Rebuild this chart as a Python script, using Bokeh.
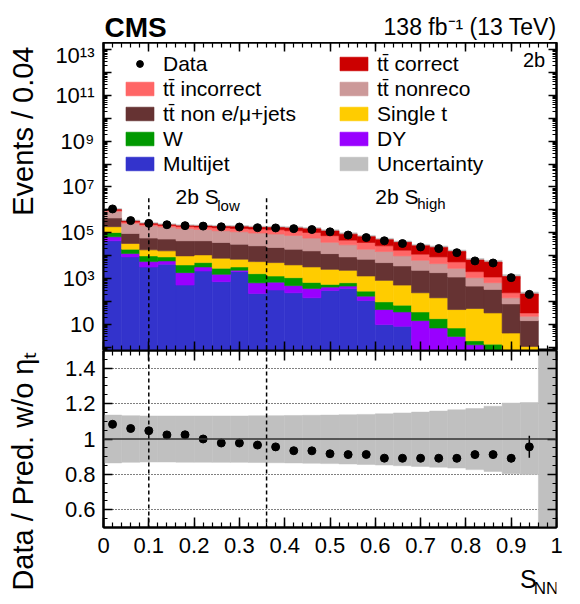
import numpy as np
from bokeh.plotting import figure
from bokeh.layouts import column, row
from bokeh.models import (FixedTicker, LogAxis, LinearAxis, Label, Legend,
                          LegendItem, Span, CustomJSTickFormatter)
from bokeh.embed import file_html
from bokeh.resources import INLINE

# ---------------- data ----------------
bin_edges = [0.00, 0.04, 0.08, 0.12, 0.16, 0.20, 0.24, 0.28, 0.32, 0.36, 0.40,
             0.44, 0.48, 0.52, 0.56, 0.60, 0.64, 0.68, 0.72, 0.76, 0.80, 0.84,
             0.88, 0.92, 0.96, 1.00]

multijet = [44600, 8800, 3200, 4200, 520, 2140, 730, 2000, 220, 316, 238, 144,
            302, 370, 110, 9.7, 8.2, 0, 0, 0, 0, 0, 0, 0, 0]
dy = [22100, 3550, 2300, 1690, 1290, 1070, 800, 290, 430, 376, 252, 226,
      122, 99, 60, 34.5, 26.6, 14.5, 6.9, 2.96, 1.28, 0, 0, 0, 0]
w_jets = [36800, 6800, 4250, 2920, 2120, 1760, 1280, 920, 980, 596, 600, 306,
          131, 187, 112, 51.7, 33.7, 20.3, 10.8, 3.94, 0.63, 1.36, 0, 0, 0]
single_t = [80200, 14800, 8150, 7370, 5820, 5820, 4910, 3760, 3860, 3680, 2840,
            2530, 1974, 1630, 1006, 736, 450, 204, 126, 37.3, 47, 30.1, 4.16, 1.08, 0]
tt_non_lj = [257900, 59600, 40400, 36540, 34800, 33800, 29900, 24800, 21400,
             17700, 15200, 12970, 9730, 6520, 5680, 4134, 3030, 2047, 1663, 1120,
             420, 303, 74.1, 13.4, 0]
tt_nonreco = [425400, 164000, 144900, 124700, 110600, 95700, 84900, 78900, 70000,
              64800, 57200, 42100, 26000, 20900, 12170, 10170, 6200, 4009, 2680,
              1635, 620, 322, 65.7, 8.0, 0]
tt_incorrect = [92000, 36800, 29600, 33000, 34900, 37100, 43500, 44500, 48100,
                48000, 46100, 45200, 36200, 17900, 18440, 11710, 7550, 5265, 4323,
                2522, 911, 508, 95, 9.0, 0]
tt_correct = [53000, 25500, 12700, 8400, 9400, 17600, 20200, 26800, 26900, 34300,
              39700, 44400, 45100, 39500, 30000, 23250, 20720, 15360, 14100, 9820,
              4457, 4084, 991, 182, 0]

data_events = [1096000, 338800, 257000, 223900, 204200, 195000, 182000, 177800,
               166000, 162200, 151400, 138000, 109600, 79430, 61660, 44670, 33880,
               23990, 20420, 13490, 5888, 4786, 1096, 204]
data_err_rel = [0.001, 0.002, 0.002, 0.002, 0.002, 0.002, 0.002, 0.002, 0.002,
                0.002, 0.003, 0.003, 0.003, 0.004, 0.004, 0.005, 0.005, 0.006,
                0.007, 0.009, 0.013, 0.015, 0.025, 0.065]

unc_hi = [1.135, 1.132, 1.130, 1.130, 1.130, 1.130, 1.130, 1.130, 1.131, 1.132,
          1.133, 1.134, 1.135, 1.137, 1.139, 1.142, 1.147, 1.152, 1.158, 1.165,
          1.172, 1.185, 1.203, 1.206, 3.0]
unc_lo = [0.865, 0.868, 0.870, 0.870, 0.869, 0.869, 0.868, 0.868, 0.867, 0.866,
          0.865, 0.863, 0.861, 0.859, 0.856, 0.853, 0.849, 0.845, 0.841, 0.836,
          0.827, 0.817, 0.804, 0.799, 0.0]

region_bounds = [0.10, 0.36]

x_major = [0.0, 0.1, 0.2, 0.3, 0.4, 0.5, 0.6, 0.7, 0.8, 0.9, 1.0]
ratio_major = [0.6, 0.8, 1.0, 1.2, 1.4]
ratio_grid = [0.6, 0.8, 1.2, 1.4]

components = [
    ("Multijet", multijet, "#3333cc"),
    ("DY", dy, "#9900ff"),
    ("W", w_jets, "#009900"),
    ("Single t", single_t, "#ffcc00"),
    ("tt\u0304 non e/\u03bc+jets", tt_non_lj, "#663333"),
    ("tt\u0304 nonreco", tt_nonreco, "#cc9999"),
    ("tt\u0304 incorrect", tt_incorrect, "#ff6666"),
    ("tt\u0304 correct", tt_correct, "#cc0000"),
]
UNC_COLOR = "#c0c0c0"
FONT = "Liberation Sans"

# ---------------- derived ----------------
edges = np.array(bin_edges)
left, right = edges[:-1], edges[1:]
centers = 0.5 * (left + right)
total = np.zeros(len(left))
for _, vals, _ in components:
    total = total + np.array(vals, dtype=float)
nd = len(data_events)
xd = centers[:nd]
data = np.array(data_events, dtype=float)
derr = data * np.array(data_err_rel)
ratio = data / total[:nd]
rerr = ratio * np.array(data_err_rel)

x_minor = [round(0.02 * i, 2) for i in range(51)]
log_major = [10.0 ** k for k in range(0, 15)]
log_minor = [m * 10.0 ** k for k in range(-1, 14) for m in range(2, 10)]
ratio_minor = [round(0.5 + 0.05 * i, 2) for i in range(21)]

log_fmt = CustomJSTickFormatter(code=r"""
const e = Math.round(Math.log10(tick));
if (e % 2 == 0) return "";
if (e == 1) return "10";
const sup = ["\u2070","\u00b9","\u00b2","\u00b3","\u2074","\u2075","\u2076","\u2077","\u2078","\u2079"];
let s = "";
for (const c of String(e)) s += sup[parseInt(c)];
return "10" + s;
""")
num_fmt = CustomJSTickFormatter(code="return String(parseFloat(tick.toFixed(2)));")


def style_axis(ax, ticker, show=False, fmt=None, standoff=8, tin=9, tmin=4):
    ax.ticker = ticker
    ax.axis_line_color = "black"
    ax.axis_line_width = 2
    ax.major_tick_line_color = "black"
    ax.major_tick_line_width = 1.5
    ax.minor_tick_line_color = "black"
    ax.minor_tick_line_width = 1.2
    ax.major_tick_in = tin
    ax.major_tick_out = 0
    ax.minor_tick_in = tmin
    ax.minor_tick_out = 0
    if show:
        ax.formatter = fmt
        ax.major_label_text_font = FONT
        ax.major_label_text_font_size = "22px"
        ax.major_label_text_color = "black"
        ax.major_label_standoff = standoff
    else:
        ax.formatter = CustomJSTickFormatter(code="return '';")
        ax.major_label_text_font_size = "1px"
        ax.major_label_standoff = 0


def text_fig(w, h):
    f = figure(width=w, height=h, x_range=(0, w), y_range=(0, h), title=None,
               x_axis_type=None, y_axis_type=None, output_backend="svg",
               toolbar_location=None, min_border=0, min_border_left=0,
               min_border_right=0, min_border_top=0, min_border_bottom=0)
    f.outline_line_color = None
    return f


def add_text(f, x, y, text, size, align="left", baseline="middle", angle=0.0,
             style="normal"):
    f.add_layout(Label(x=x, y=y, text=text, text_font=FONT, text_font_size=size,
                       text_align=align, text_baseline=baseline, angle=angle,
                       text_font_style=style, text_color="black"))


def main_log(page_y):
    # value at a given page row of the main frame (calibration of the y scale)
    return 10 ** (13 - (page_y - 50) / 22.75)


LEFT_W = 45
W = 580 - LEFT_W
HEADER_H = 42
P_H = 308
R_H = 212
# ---------------- main panel ----------------
p = figure(width=W, height=P_H, x_range=(0, 1), y_range=(0.72, 2.04e13), title=None,
           y_axis_type="log", output_backend="svg", toolbar_location=None,
           min_border_left=58, min_border_right=24, min_border_top=0,
           min_border_bottom=0)
p.outline_line_color = "black"
p.outline_line_width = 2
p.xgrid.visible = False
p.ygrid.visible = False

mask = total > 0
unc_r = p.quad(left=left[mask], right=right[mask],
               bottom=(total * np.array(unc_lo))[mask],
               top=(total * np.array(unc_hi))[mask],
               fill_color=UNC_COLOR, line_color=UNC_COLOR, line_width=0.5)

renderers = {}
bottom = np.full(len(left), 1e-3)
for name, vals, col in components:
    top = bottom + np.array(vals, dtype=float)
    renderers[name] = p.quad(left=left, right=right, bottom=bottom, top=top,
                             fill_color=col, line_color=col, line_width=0.6)
    bottom = top

for b in region_bounds:
    p.segment(x0=[b], x1=[b], y0=[0.1], y1=[3.8e6], line_color="black",
              line_width=1.5, line_dash="4 3")

p.segment(x0=xd, x1=xd, y0=data - derr, y1=data + derr, line_color="black",
          line_width=1.5)
data_r = p.scatter(xd, data, size=8, color="black")

style_axis(p.xaxis[0], FixedTicker(ticks=x_major, minor_ticks=x_minor), tin=9, tmin=5)
style_axis(p.yaxis[0], FixedTicker(ticks=log_major, minor_ticks=log_minor),
           show=True, fmt=log_fmt, standoff=9, tin=8, tmin=4)
ax_top = LinearAxis()
style_axis(ax_top, FixedTicker(ticks=x_major, minor_ticks=x_minor), tin=9, tmin=5)
p.add_layout(ax_top, "above")
ax_right = LogAxis()
style_axis(ax_right, FixedTicker(ticks=log_major, minor_ticks=log_minor), tin=8, tmin=4)
p.add_layout(ax_right, "right")

items = [
    LegendItem(label="Data", renderers=[data_r]),
    LegendItem(label="tt\u0304 incorrect", renderers=[renderers["tt\u0304 incorrect"]]),
    LegendItem(label="tt\u0304 non e/\u03bc+jets", renderers=[renderers["tt\u0304 non e/\u03bc+jets"]]),
    LegendItem(label="W", renderers=[renderers["W"]]),
    LegendItem(label="Multijet", renderers=[renderers["Multijet"]]),
    LegendItem(label="tt\u0304 correct", renderers=[renderers["tt\u0304 correct"]]),
    LegendItem(label="tt\u0304 nonreco", renderers=[renderers["tt\u0304 nonreco"]]),
    LegendItem(label="Single t", renderers=[renderers["Single t"]]),
    LegendItem(label="DY", renderers=[renderers["DY"]]),
    LegendItem(label="Uncertainty", renderers=[unc_r]),
]
leg = Legend(items=items, location=(19, 174), ncols=2, orientation="vertical",
             glyph_width=35, glyph_height=17, label_standoff=6, label_width=173,
             label_height=25, spacing=0, padding=0, margin=0,
             border_line_alpha=0, background_fill_alpha=0,
             label_text_font=FONT, label_text_font_size="21px",
             label_text_color="black")
p.add_layout(leg)

add_text(p, 0.975, main_log(60), "2b", "20px", align="right")
add_text(p, 0.159, main_log(195.6), "2b S", "21px")
add_text(p, 0.251, main_log(204.8), "low", "15px")
add_text(p, 0.600, main_log(195.6), "2b S", "21px")
add_text(p, 0.6925, main_log(203.3), "high", "15px")

# ---------------- ratio panel ----------------
r = figure(width=W, height=R_H, x_range=p.x_range, y_range=(0.5, 1.5), title=None,
           output_backend="svg", toolbar_location=None,
           min_border_left=58, min_border_right=24, min_border_top=0,
           min_border_bottom=35)
r.outline_line_color = "black"
r.outline_line_width = 2
r.xgrid.visible = False
r.ygrid.ticker = FixedTicker(ticks=ratio_grid)
r.ygrid.grid_line_color = "black"
r.ygrid.grid_line_dash = "1 2"
r.ygrid.grid_line_width = 1

r.quad(left=left, right=right, bottom=unc_lo, top=unc_hi,
       fill_color=UNC_COLOR, line_color=UNC_COLOR, line_width=0.5)
r.add_layout(Span(location=1.0, dimension="width", line_color="#333333", line_width=1.5))
for b in region_bounds:
    r.add_layout(Span(location=b, dimension="height", line_color="black",
                      line_width=1.5, line_dash="4 3"))
r.segment(x0=xd, x1=xd, y0=ratio - rerr, y1=ratio + rerr, line_color="black", line_width=1.5)
r.scatter(xd, ratio, size=8, color="black")

style_axis(r.xaxis[0], FixedTicker(ticks=x_major, minor_ticks=x_minor), show=True,
           fmt=num_fmt, standoff=10, tin=10, tmin=5)
style_axis(r.yaxis[0], FixedTicker(ticks=ratio_major, minor_ticks=ratio_minor), show=True,
           fmt=num_fmt, standoff=8, tin=9, tmin=4)
r_top = LinearAxis()
style_axis(r_top, FixedTicker(ticks=x_major, minor_ticks=x_minor), tin=10, tmin=5)
r.add_layout(r_top, "above")
r_right = LinearAxis()
style_axis(r_right, FixedTicker(ticks=ratio_major, minor_ticks=ratio_minor), tin=9, tmin=4)
r.add_layout(r_right, "right")

# ---------------- text strips (header, left titles, x title) ----------------
header = text_fig(580, HEADER_H)
add_text(header, 104, HEADER_H - 26.8, "CMS", "28px", style="bold")
add_text(header, 556, HEADER_H - 26.5, "138 fb\u207b\u00b9 (13 TeV)", "23px", align="right")

FOOT_TOP = HEADER_H + P_H + R_H
footer_h = 604 - FOOT_TOP
footer = text_fig(W, footer_h)
add_text(footer, 537 - LEFT_W, 604 - 578.3, "S", "25px", align="left")
add_text(footer, 553 - LEFT_W, 604 - 588.0, "NN", "17px", align="left")

left_h = 604 - HEADER_H
left_fig = text_fig(LEFT_W, left_h)
add_text(left_fig, 22, 604 - 46, "Events / 0.04", "29px", align="right",
         angle=np.pi / 2)
add_text(left_fig, 22, 604 - 351, "Data / Pred. w/o \u03b7\u209c", "29px", align="right",
         angle=np.pi / 2)

layout = column(header, row(left_fig, column(p, r, footer)))
open("out.html", "w", encoding="utf-8").write(file_html(layout, INLINE, title="S_NN 2b"))
